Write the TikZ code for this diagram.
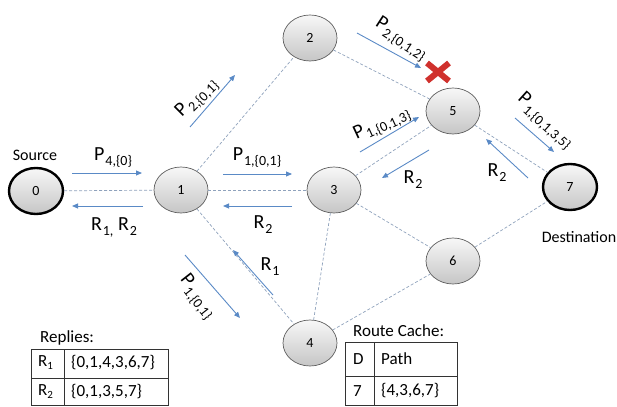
\documentclass[tikz,border=0pt]{standalone}
\usepackage{fontspec}
\setmainfont{Carlito}
\usetikzlibrary{arrows.meta,shapes.geometric,calc}
\definecolor{edgec}{HTML}{8FA2BC}
\definecolor{arrc}{HTML}{5A8AC6}
\definecolor{xred}{HTML}{D0312D}
\newcommand\lbl[2]{#1\kern1pt\raisebox{-5pt}{\fontsize{14}{14}\selectfont #2}}
\newcommand\tsub[2]{#1\raisebox{-3pt}{\fontsize{11}{11}\selectfont #2}}
\tikzset{
  net/.style={ellipse, minimum width=54pt, minimum height=46pt, draw=gray!75!black, line width=0.7pt,
    top color=gray!6, bottom color=gray!45, font=\fontsize{14}{14}\selectfont, inner sep=0pt},
  endnode/.style={net, draw=black, line width=2.4pt},
  link/.style={edgec, dash pattern=on 3pt off 2pt, line width=0.7pt},
  msg/.style={arrc, line width=0.9pt, -{Triangle[length=6pt,width=5pt]}},
  lab/.style={font=\fontsize{20}{20}\selectfont, inner sep=0pt},
  txt/.style={font=\fontsize{16}{16}\selectfont, inner sep=0pt},
  cell/.style={font=\fontsize{17}{17}\selectfont, inner sep=0pt, anchor=west},
  tab/.style={draw=black!80, line width=0.7pt}
}
\begin{document}
\begin{tikzpicture}[x=1pt,y=-1pt]
\useasboundingbox (0,0) rectangle (617,406);
% nodes
\node[endnode] (n0) at (36,191) {0};
\node[net] (n1) at (181,190) {1};
\node[net] (n2) at (310,38) {2};
\node[net] (n3) at (334,190) {3};
\node[net] (n4) at (310,343) {4};
\node[net] (n5) at (453,111) {5};
\node[net] (n6) at (453,261) {6};
\node[endnode] (n7) at (570,187) {7};
% links
\draw[link] (n0) -- (n1);
\draw[link] (n1) -- (n2);
\draw[link] (n1) -- (n3);
\draw[link] (n1) -- (n4);
\draw[link] (n2) -- (n5);
\draw[link] (n3) -- (n5);
\draw[link] (n3) -- (n6);
\draw[link] (n3) -- (n4);
\draw[link] (n5) -- (n7);
\draw[link] (n6) -- (n7);
\draw[link] (n4) -- (n6);
% node labels
\node[txt] (src) at (35,155) {Source};
\node[txt] (dst) at (579,237) {Destination};
% messages 0-1
\coordinate (a1s) at (72,173); \coordinate (a1e) at (142,173);
\draw[msg] (a1s) -- (a1e);
\node[lab] (l1) at (113,158) {\lbl{P}{4,\{0\}}};
\coordinate (a2s) at (143,206); \coordinate (a2e) at (72,206);
\draw[msg] (a2s) -- (a2e);
\node[lab] (l2) at (114,227) {\lbl{R}{1,} \lbl{R}{2}};
% 1-2
\coordinate (a3s) at (190,127); \coordinate (a3e) at (235,75);
\draw[msg] (a3s) -- (a3e);
\node[lab, rotate=45] (l3) at (197,98) {\lbl{P}{2,\{0,1\}}};
% 1-3
\coordinate (a4s) at (223,174); \coordinate (a4e) at (292,174);
\draw[msg] (a4s) -- (a4e);
\node[lab] (l4) at (257,158) {\lbl{P}{1,\{0,1\}}};
\coordinate (a5s) at (292,206); \coordinate (a5e) at (223,206);
\draw[msg] (a5s) -- (a5e);
\node[lab] (l5) at (263,225) {\lbl{R}{2}};
% 1-4
\coordinate (a6s) at (273,295); \coordinate (a6e) at (233,250);
\draw[msg] (a6s) -- (a6e);
\node[lab] (l6) at (270,267) {\lbl{R}{1}};
\coordinate (a7s) at (185,255); \coordinate (a7e) at (240,318);
\draw[msg] (a7s) -- (a7e);
\node[lab, rotate=-52] (l7) at (197,297) {\lbl{P}{1,\{0,1\}}};
% 2-5
\coordinate (a8s) at (357,33); \coordinate (a8e) at (421,68);
\draw[msg] (a8s) -- (a8e);
\node[lab, rotate=-33] (l8) at (401,39) {\lbl{P}{2,\{0,1,2\}}};
% red cross
\coordinate (xc) at (438,72);
\draw[xred, line width=6pt] ($(xc)+(-11,-9)$) -- ($(xc)+(11,9)$);
\draw[xred, line width=6pt] ($(xc)+(-11,9)$) -- ($(xc)+(11,-9)$);
% 3-5
\coordinate (a9s) at (360,152); \coordinate (a9e) at (419,117);
\draw[msg] (a9s) -- (a9e);
\node[lab, rotate=25] (l9) at (382,124) {\lbl{P}{1,\{0,1,3\}}};
\coordinate (a10s) at (429,150); \coordinate (a10e) at (382,178);
\draw[msg] (a10s) -- (a10e);
\node[lab] (l10) at (413,180) {\lbl{R}{2}};
% 5-7
\coordinate (a11s) at (515,118); \coordinate (a11e) at (554,152);
\draw[msg] (a11s) -- (a11e);
\node[lab, rotate=-42] (l11) at (545,121) {\lbl{P}{1,\{0,1,3,5\}}};
\coordinate (a12s) at (528,178); \coordinate (a12e) at (486,139);
\draw[msg] (a12s) -- (a12e);
\node[lab] (l12) at (497,173) {\lbl{R}{2}};
% Replies table
\node[cell] (rh) at (40,338) {Replies:};
\draw[tab] (31,349) rectangle (168,405.5);
\draw[tab] (31,378) -- (168,378);
\draw[tab] (64,349) -- (64,405.5);
\node[cell] (r1a) at (38,363) {\tsub{R}{1}};
\node[cell] (r1b) at (71,363) {\{0,1,4,3,6,7\}};
\node[cell] (r2a) at (38,392) {\tsub{R}{2}};
\node[cell] (r2b) at (71,392) {\{0,1,3,5,7\}};
% Route cache table
\node[cell] (ch) at (353,331) {Route Cache:};
\draw[tab] (345,342) rectangle (457,405.5);
\draw[tab] (345,376) -- (457,376);
\draw[tab] (374,342) -- (374,405.5);
\node[cell] (c1a) at (353,359) {D};
\node[cell] (c1b) at (381,359) {Path};
\node[cell] (c2a) at (353,391) {7};
\node[cell] (c2b) at (381,391) {\{4,3,6,7\}};
\end{tikzpicture}
\end{document}
